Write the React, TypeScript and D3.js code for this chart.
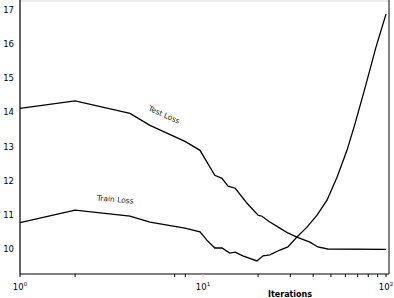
import { useMemo } from "react"
import * as d3 from "d3"

// Loss curves (iterations on a log axis)
const TRAIN_ITERS = [1, 2, 3.99, 5.13, 7.97, 9.63, 10.5, 11.6, 12.7, 14.0, 15.0, 16.5, 19.7, 21.3, 23.2, 26.3, 29.1, 32.6, 37.0, 42.0, 47.6, 54.0, 61.2, 68.0, 78.0, 88.0, 100]
const TRAIN_LOSS  = [10.77, 11.14, 10.96, 10.79, 10.61, 10.5, 10.26, 10.03, 10.03, 9.88, 9.91, 9.8, 9.65, 9.8, 9.83, 9.97, 10.06, 10.35, 10.64, 10.99, 11.43, 12.1, 12.89, 13.7, 14.85, 15.9, 16.88]

const TEST_ITERS = [1, 2, 3.99, 5.13, 7.97, 9.63, 11.6, 12.7, 13.7, 15.0, 17.4, 20.0, 21.0, 23.2, 26.3, 29.1, 32.6, 38.4, 42.4, 48.0, 100]
const TEST_LOSS  = [14.12, 14.34, 13.97, 13.62, 13.15, 12.89, 12.16, 12.07, 11.84, 11.78, 11.34, 10.99, 10.96, 10.79, 10.61, 10.47, 10.35, 10.2, 10.06, 10.0, 9.99]

const Y_TICKS = [10, 11, 12, 13, 14, 15, 16, 17]
const X_MAJOR = [1, 10, 100]
const X_MINOR = [2, 7, 8, 20, 30, 40, 50, 60, 70, 80, 90]

const LEFT = 20
const RIGHT = 389
const BOTTOM = 274
const FONT = "DejaVu Sans, sans-serif"

export default function App() {
  const x = useMemo(() => d3.scaleLog().domain([1, 100]).range([20, 386]), [])
  const y = useMemo(() => d3.scaleLinear().domain([10, 17]).range([249, 10]), [])

  const line = d3
    .line<[number, number]>()
    .x((d) => x(d[0]))
    .y((d) => y(d[1]))

  const train = line(TRAIN_ITERS.map((it, i) => [it, TRAIN_LOSS[i]]))
  const test = line(TEST_ITERS.map((it, i) => [it, TEST_LOSS[i]]))

  return (
    <svg
      width={394}
      height={298}
      style={{ position: "absolute", left: 0, top: 0, background: "#fff" }}
    >
      <rect x={LEFT} y={0} width={RIGHT - LEFT} height={2} fill="#ececec" />

      {/* spines */}
      <line x1={LEFT} x2={LEFT} y1={0} y2={BOTTOM} stroke="#000" strokeWidth={1.2} />
      <line x1={LEFT} x2={RIGHT} y1={BOTTOM} y2={BOTTOM} stroke="#000" strokeWidth={1.2} />
      <line x1={RIGHT} x2={RIGHT} y1={0} y2={BOTTOM} stroke="#000" strokeWidth={1} />

      {/* x ticks */}
      {X_MAJOR.map((t) => (
        <g key={t}>
          <line
            x1={x(t)}
            x2={x(t)}
            y1={BOTTOM}
            y2={BOTTOM + 3}
            stroke={t === 10 ? "#ccc" : "#000"}
          />
          <text
            x={x(t)}
            y={290}
            textAnchor="middle"
            fontFamily={FONT}
            fontSize={8.5}
            fill="#000"
          >
            10
            <tspan dy={-4} fontSize={5.5}>
              {Math.log10(t)}
            </tspan>
          </text>
        </g>
      ))}
      {X_MINOR.map((t) => (
        <line key={t} x1={x(t)} x2={x(t)} y1={BOTTOM} y2={BOTTOM + 3} stroke="#000" />
      ))}

      {/* y labels */}
      {Y_TICKS.map((t) => (
        <text
          key={t}
          x={14}
          y={y(t)}
          textAnchor="end"
          dominantBaseline="central"
          fontFamily={FONT}
          fontSize={8.5}
          fill="#000"
        >
          {t}
        </text>
      ))}

      <text x={290} y={297} textAnchor="middle" fontFamily={FONT} fontSize={8} fontWeight="bold">
        Iterations
      </text>

      <path d={test ?? ""} fill="none" stroke="#000" strokeWidth={1.3} />
      <path d={train ?? ""} fill="none" stroke="#000" strokeWidth={1.3} />

      <text
        transform="translate(163,117) rotate(24)"
        textAnchor="middle"
        fontFamily={FONT}
        fontSize={7.5}
        fill="#222"
      >
        Test Loss
      </text>
      <text
        transform="translate(115,202) rotate(5)"
        textAnchor="middle"
        fontFamily={FONT}
        fontSize={7.5}
        fill="#222"
      >
        Train Loss
      </text>
    </svg>
  )
}
